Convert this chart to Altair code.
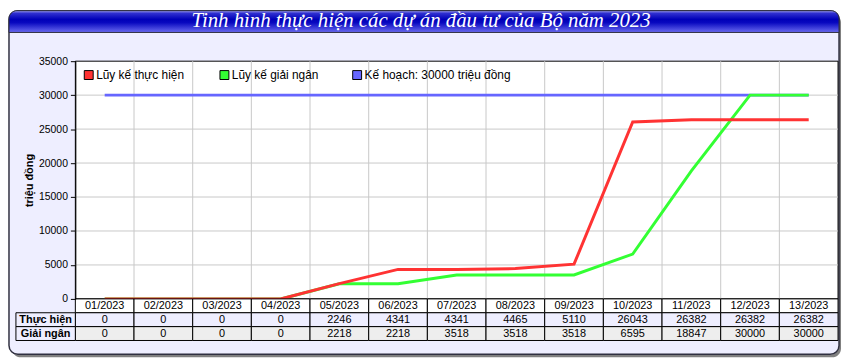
import altair as alt
import pandas as pd

months = ["01/2023", "02/2023", "03/2023", "04/2023", "05/2023", "06/2023", "07/2023",
          "08/2023", "09/2023", "10/2023", "11/2023", "12/2023", "13/2023"]
thuc_hien = [0, 0, 0, 0, 2246, 4341, 4341, 4465, 5110, 26043, 26382, 26382, 26382]
giai_ngan = [0, 0, 0, 0, 2218, 2218, 3518, 3518, 3518, 6595, 18847, 30000, 30000]
ke_hoach = 30000
y_ticks = [0, 5000, 10000, 15000, 20000, 25000, 30000, 35000]

series_names = ["Lũy kế thực hiện", "Lũy kế giải ngân", "Kế hoạch: 30000 triệu đồng"]
series_colors = ["#FF3333", "#33FF33", "#6666FF"]
row_names = ["Thực hiện", "Giải ngân"]
title_text = "Tinh hình thực hiện các dự án đầu tư của Bộ năm 2023"

FONT = "Liberation Sans"
LAV = "#EEEEFF"

df = pd.DataFrame({
    "idx": list(range(len(months))),
    "month": months,
    "th": thuc_hien,
    "gn": giai_ngan,
    "kh": [ke_hoach] * len(months),
})
df["x0"] = df["idx"] - 0.5
df["x1"] = df["idx"] + 0.5
df["th_s"] = df["th"].astype(str)
df["gn_s"] = df["gn"].astype(str)

grid_df = pd.DataFrame({"b": [i + 0.5 for i in range(len(months) - 1)]})
hgrid_df = pd.DataFrame({"v": [v for v in y_ticks if 0 < v < max(y_ticks)]})

one = alt.InlineData(values=[{}])

xscale = alt.Scale(domain=[-0.5, len(months) - 0.5], nice=False, zero=False)
yscale = alt.Scale(domain=[0, 35000], nice=False)

yaxis = alt.Axis(values=y_ticks, title="triệu đồng", grid=False, zindex=1, format="d",
                 labelFont=FONT, labelFontSize=10.5, labelColor="black", labelPadding=3,
                 tickColor="black", tickSize=5, domainColor="black",
                 titleFont=FONT, titleFontSize=11, titleFontWeight="bold",
                 titleColor="black", titlePadding=4)

# decorative frame
shadow = alt.Chart(one).mark_rect(fill="#808080", cornerRadius=9).encode(
    x=alt.value(-64), x2=alt.value(773), y=alt.value(-48), y2=alt.value(299))
frame = alt.Chart(one).mark_rect(fill=LAV, stroke="#303040", strokeWidth=1.5, cornerRadius=9).encode(
    x=alt.value(-67), x2=alt.value(771), y=alt.value(-51), y2=alt.value(296))
bar = alt.Chart(one).mark_rect(
    fill=alt.LinearGradient(
        gradient="linear", x1=0, x2=0, y1=0, y2=1,
        stops=[alt.GradientStop(color="#A0A0F0", offset=0),
               alt.GradientStop(color="#3030D0", offset=0.12),
               alt.GradientStop(color="#0000B8", offset=0.4),
               alt.GradientStop(color="#0808C0", offset=0.55),
               alt.GradientStop(color="#6A6AF0", offset=1)]),
    cornerRadiusTopLeft=8, cornerRadiusTopRight=8, stroke="#303040", strokeWidth=1
).encode(x=alt.value(-67), x2=alt.value(771), y=alt.value(-51), y2=alt.value(-29))
title = alt.Chart(one).mark_text(
    font="Liberation Serif", fontStyle="italic", fontSize=21, color="white",
    align="center", baseline="middle"
).encode(x=alt.value(349), y=alt.value(-41), text=alt.value(title_text))

plot_bg = alt.Chart(one).mark_rect(fill="white", stroke="black", strokeWidth=1).encode(
    x=alt.value(0), x2=alt.value(770), y=alt.value(0), y2=alt.value(240))

vgrid = alt.Chart(grid_df).mark_rule(color="#C8C8C8", strokeWidth=1).encode(
    x=alt.X("b:Q", scale=xscale, axis=None), y=alt.value(0), y2=alt.value(240))
hgrid = alt.Chart(hgrid_df).mark_rule(color="#C8C8C8", strokeWidth=1).encode(
    y=alt.Y("v:Q", scale=yscale, axis=yaxis), x=alt.value(0), x2=alt.value(770))

blue = alt.Chart(df).mark_line(color=series_colors[2], strokeWidth=3).encode(
    x=alt.X("idx:Q", scale=xscale, axis=None),
    y=alt.Y("kh:Q", scale=yscale, axis=yaxis))
green = alt.Chart(df).mark_line(color=series_colors[1], strokeWidth=3).encode(
    x=alt.X("idx:Q", scale=xscale, axis=None),
    y=alt.Y("gn:Q", scale=yscale, axis=yaxis))
red = alt.Chart(df).mark_line(color=series_colors[0], strokeWidth=3).encode(
    x=alt.X("idx:Q", scale=xscale, axis=None),
    y=alt.Y("th:Q", scale=yscale, axis=yaxis))

# manual legend
legend_layers = []
leg_x = [9, 146, 280]
for name, col, lx in zip(series_names, series_colors, leg_x):
    legend_layers.append(alt.Chart(one).mark_rect(fill=col, stroke="black", strokeWidth=1).encode(
        x=alt.value(lx), x2=alt.value(lx + 9), y=alt.value(9.5), y2=alt.value(18.5)))
    legend_layers.append(alt.Chart(one).mark_text(
        font=FONT, fontSize=12, color="black", align="left", baseline="middle").encode(
        x=alt.value(lx + 12), y=alt.value(14), text=alt.value(name)))

# table
rows_y = [(240, 254), (254, 268), (268, 282)]
fills = ["white", LAV, "#EEEEEE"]
fields = ["month", "th_s", "gn_s"]
table_layers = []
for (y0, y1), f, fld in zip(rows_y, fills, fields):
    table_layers.append(alt.Chart(df).mark_rect(fill=f, stroke="black", strokeWidth=1).encode(
        x=alt.X("x0:Q", scale=xscale, axis=None), x2="x1:Q",
        y=alt.value(y0), y2=alt.value(y1)))
    table_layers.append(alt.Chart(df).mark_text(
        font=FONT, fontSize=11, color="black", align="center", baseline="middle").encode(
        x=alt.X("idx:Q", scale=xscale, axis=None),
        y=alt.value((y0 + y1) / 2 + 0.5), text=f"{fld}:N"))
for (y0, y1), name in zip(rows_y[1:], row_names):
    table_layers.append(alt.Chart(one).mark_rect(fill=LAV, stroke="black", strokeWidth=1).encode(
        x=alt.value(-60), x2=alt.value(0), y=alt.value(y0), y2=alt.value(y1)))
    table_layers.append(alt.Chart(one).mark_text(
        font=FONT, fontSize=11, fontWeight="bold", color="black",
        align="center", baseline="middle").encode(
        x=alt.value(-30), y=alt.value((y0 + y1) / 2 + 0.5), text=alt.value(name)))

chart = alt.layer(
    shadow, frame, bar, title, plot_bg, vgrid, hgrid, blue, green, red,
    *legend_layers, *table_layers
).properties(
    width=770, height=240,
    autosize=alt.AutoSizeParams(type="none"),
    padding={"left": 68, "top": 52, "right": 4, "bottom": 60},
).configure_view(stroke=None)

chart.save("out.html", embed_options={"renderer": "svg", "actions": False})
